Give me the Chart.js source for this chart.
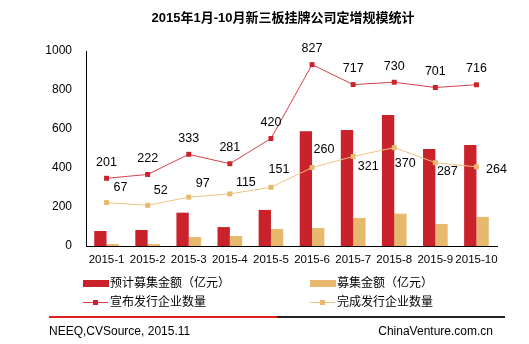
<!DOCTYPE html>
<html>
<head>
<meta charset="utf-8">
<script src="https://cdn.jsdelivr.net/npm/chart.js@4/dist/chart.umd.min.js"></script>
<style>
  html, body { margin: 0; padding: 0; background: #fff; }
  #wrap { width: 529px; height: 344px; position: relative; }
</style>
</head>
<body>
<div id="wrap"><canvas id="chart" width="529" height="344"></canvas></div>
<script>
// 月份
const months = ['2015-1', '2015-2', '2015-3', '2015-4', '2015-5', '2015-6', '2015-7', '2015-8', '2015-9', '2015-10'];
// 预计募集金额（亿元）
const plannedAmount = [77, 82, 171, 97, 185, 588, 595, 672, 497, 518];
// 募集金额（亿元）
const raisedAmount = [10, 10, 46, 51, 87, 92, 144, 166, 113, 149];
// 宣布发行企业数量
const announcedCount = [201, 222, 333, 281, 420, 827, 717, 730, 701, 716];
// 完成发行企业数量
const completedCount = [67, 52, 97, 115, 151, 260, 321, 370, 287, 264];
const yTicks = [0, 200, 400, 600, 800, 1000];

const RED = '#c9222b';
const GOLD = '#e6b96e';
const FONT = '"Liberation Sans", Arial, "Noto Sans CJK SC", sans-serif';

// 数值标签偏移（完成发行那条线的标签位置不规则）
const completedLabelOffset = [[14, -15], [13, -15], [14, -14], [16, -11], [8, -18],
  [12, -18], [15, 10], [11, 16], [12, 9], [20, 3]];

const labelPlugin = {
  id: 'pointLabels',
  afterDatasetsDraw(chart) {
    const ctx = chart.ctx;
    ctx.save();
    ctx.font = '12.5px ' + FONT;
    ctx.fillStyle = '#000';
    ctx.textAlign = 'center';
    ctx.textBaseline = 'middle';
    chart.getDatasetMeta(0).data.forEach((pt, i) => {
      ctx.fillText(announcedCount[i], pt.x, pt.y - 16);
    });
    chart.getDatasetMeta(1).data.forEach((pt, i) => {
      const o = completedLabelOffset[i];
      ctx.fillText(completedCount[i], pt.x + o[0], pt.y + o[1]);
    });
    ctx.restore();
  }
};

// 标题、图例和底部来源
const decorPlugin = {
  id: 'decor',
  afterDraw(chart) {
    const ctx = chart.ctx;
    const ds = chart.data.datasets;
    ctx.save();
    ctx.fillStyle = '#000';
    ctx.font = 'bold 13px ' + FONT;
    ctx.textAlign = 'center';
    ctx.textBaseline = 'middle';
    ctx.fillText('2015年1月-10月新三板挂牌公司定增规模统计', 283, 18);

    ctx.font = '12px ' + FONT;
    ctx.textAlign = 'left';
    // 柱形图例
    const bars = [[ds[2], 83, 283], [ds[3], 310, 283]];
    bars.forEach(([d, x, y]) => {
      ctx.fillStyle = d.backgroundColor;
      ctx.fillRect(x, y - 3, 26, 7);
      ctx.fillStyle = '#000';
      ctx.fillText(d.label, x + 27, y + 1);
    });
    // 折线图例
    const lines = [[ds[0], 83, 302], [ds[1], 310, 302]];
    lines.forEach(([d, x, y]) => {
      ctx.strokeStyle = d.borderColor;
      ctx.lineWidth = 1;
      ctx.beginPath();
      ctx.moveTo(x, y + 0.5);
      ctx.lineTo(x + 25, y + 0.5);
      ctx.stroke();
      ctx.fillStyle = d.pointBackgroundColor;
      ctx.fillRect(x + 10, y - 2, 5, 5);
      ctx.fillStyle = '#000';
      ctx.fillText(d.label, x + 27, y + 1);
    });

    // 分隔线
    ctx.fillStyle = '#e02020';
    ctx.fillRect(49, 316, 228, 2);
    ctx.fillStyle = '#222';
    ctx.fillRect(277, 316, 228, 2);

    ctx.fillStyle = '#000';
    ctx.font = '12px ' + FONT;
    ctx.textAlign = 'left';
    ctx.fillText('NEEQ,CVSource, 2015.11', 49, 332);
    ctx.textAlign = 'right';
    ctx.fillText('ChinaVenture.com.cn', 493, 332);
    ctx.restore();
  }
};

new Chart(document.getElementById('chart'), {
  data: {
    labels: months,
    datasets: [
      {
        type: 'line',
        label: '宣布发行企业数量',
        data: announcedCount,
        yAxisID: 'y2',
        order: 0,
        borderColor: '#d6404a',
        borderWidth: 1,
        pointStyle: 'rect',
        pointRadius: 3.5,
        pointBackgroundColor: RED,
        pointBorderColor: RED,
        pointBorderWidth: 0,
        tension: 0
      },
      {
        type: 'line',
        label: '完成发行企业数量',
        data: completedCount,
        yAxisID: 'y2',
        order: 0,
        borderColor: '#ebc382',
        borderWidth: 1,
        pointStyle: 'rect',
        pointRadius: 3.5,
        pointBackgroundColor: GOLD,
        pointBorderColor: GOLD,
        pointBorderWidth: 0,
        tension: 0
      },
      {
        type: 'bar',
        label: '预计募集金额（亿元）',
        data: plannedAmount,
        yAxisID: 'y',
        order: 1,
        backgroundColor: RED,
        categoryPercentage: 0.6,
        barPercentage: 1
      },
      {
        type: 'bar',
        label: '募集金额（亿元）',
        data: raisedAmount,
        yAxisID: 'y',
        order: 1,
        backgroundColor: GOLD,
        categoryPercentage: 0.6,
        barPercentage: 1
      }
    ]
  },
  options: {
    responsive: false,
    animation: false,
    layout: { padding: { top: 51, right: 32, bottom: 68, left: 0 } },
    plugins: {
      legend: { display: false },
      tooltip: { enabled: false }
    },
    scales: {
      x: {
        grid: { display: false, drawTicks: false },
        border: { display: true, color: '#000', width: 1 },
        ticks: { color: '#000', font: { family: FONT, size: 11.5 }, padding: 7, maxRotation: 0, autoSkip: false },
        afterFit(scale) { scale.height = 30; }
      },
      y: {
        min: 0,
        max: 1000,
        afterBuildTicks(scale) { scale.ticks = yTicks.map(v => ({ value: v })); },
        grid: { display: false, drawTicks: false },
        border: { display: true, color: '#000', width: 1 },
        ticks: { color: '#000', font: { family: FONT, size: 12 }, padding: 14, callback: v => String(v) },
        afterFit(scale) { scale.width = 86; }
      },
      y2: {
        display: false,
        min: -172,
        max: 902
      }
    }
  },
  plugins: [labelPlugin, decorPlugin]
});
</script>
</body>
</html>
